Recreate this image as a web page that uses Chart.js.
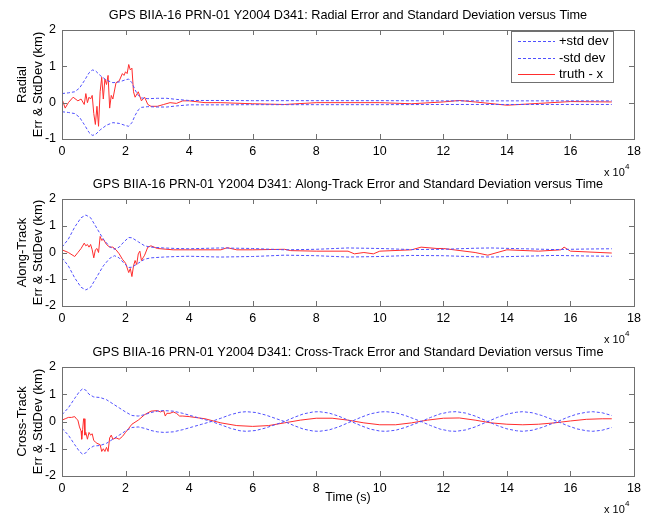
<!DOCTYPE html>
<html>
<head>
<meta charset="utf-8">
<script src="https://cdn.jsdelivr.net/npm/chart.js@4.4.0/dist/chart.umd.min.js"></script>
<style>
  body { margin: 0; background: #fff; width: 650px; height: 517px; position: relative; overflow: hidden; }
  canvas { position: absolute; left: 0; }
</style>
</head>
<body>
<canvas id="radial" width="650" height="185" style="top:0px"></canvas>
<canvas id="along" width="650" height="185" style="top:170px"></canvas>
<canvas id="cross" width="650" height="179" style="top:338px"></canvas>
<script>
// time axis is in units of 10^4 s
const xTickValues = [0, 2, 4, 6, 8, 10, 12, 14, 16, 18];
const radialTicks = [-1, 0, 1, 2];
const trackTicks = [-2, -1, 0, 1, 2];

// ---- Radial ----
const radialStdT = [0, 0.2, 0.4, 0.55, 0.7, 0.85, 0.95, 1.05, 1.2, 1.4, 1.6, 1.8, 2.0, 2.1, 2.2, 2.3, 2.4, 2.5, 2.7, 3.0, 3.3, 3.6, 4.0, 5, 6, 8, 10, 12, 14, 16, 17.3];
const radialStd = [0.25, 0.27, 0.3, 0.4, 0.6, 0.82, 0.9, 0.88, 0.75, 0.62, 0.55, 0.57, 0.63, 0.65, 0.55, 0.35, 0.2, 0.13, 0.11, 0.12, 0.12, 0.09, 0.06, 0.06, 0.055, 0.055, 0.055, 0.05, 0.05, 0.05, 0.05];
const radialErrT = [0, 0.1, 0.2, 0.35, 0.5, 0.6, 0.7, 0.75, 0.8, 0.85, 0.9, 0.95, 1.0, 1.05, 1.1, 1.15, 1.2, 1.25, 1.3, 1.35, 1.4, 1.45, 1.5, 1.55, 1.6, 1.7, 1.8, 1.9, 1.95, 2.0, 2.05, 2.1, 2.15, 2.2, 2.25, 2.3, 2.4, 2.5, 2.6, 2.7, 2.8, 3.0, 3.2, 3.4, 3.6, 3.8, 4.0, 4.5, 5, 6, 7, 8, 9, 10, 11, 12, 12.5, 13, 14, 15, 15.8, 16, 17.3];
const radialErr = [0.1, -0.15, 0.0, 0.15, 0.05, 0.1, -0.05, 0.25, 0.0, 0.15, 0.1, 0.2, -0.3, -0.6, -0.1, -0.65, 0.3, 0.7, 0.1, 0.65, 0.5, 0.75, -0.15, 0.2, 0.1, 0.55, 0.6, 0.8, 0.75, 0.85, 0.8, 1.05, 0.9, 0.95, 0.3, 0.15, 0.3, 0.05, 0.15, -0.05, -0.1, -0.1, -0.05, 0.0, -0.02, 0.05, 0.05, 0.0, 0.0, -0.03, -0.05, 0.0, 0.0, 0.0, -0.03, 0.02, 0.06, 0.02, -0.07, -0.02, 0.02, 0.03, 0.02];

// ---- Along-Track ----
const alongStdT = [0, 0.2, 0.4, 0.6, 0.75, 0.9, 1.1, 1.3, 1.5, 1.65, 1.8, 1.95, 2.1, 2.2, 2.4, 2.6, 2.8, 3.2, 3.6, 4.0, 5.0, 6.0, 7.0, 8.0, 9.0, 10.0, 11.0, 12.0, 13.0, 13.5, 14.5, 15.5, 16.5, 17.3];
const alongStd = [0.2, 0.5, 0.95, 1.3, 1.4, 1.3, 0.9, 0.5, 0.22, 0.12, 0.2, 0.4, 0.56, 0.55, 0.4, 0.25, 0.2, 0.17, 0.15, 0.14, 0.17, 0.15, 0.1, 0.12, 0.17, 0.15, 0.11, 0.12, 0.16, 0.17, 0.14, 0.11, 0.13, 0.14];
const alongErrT = [0, 0.2, 0.4, 0.5, 0.6, 0.7, 0.75, 0.8, 0.85, 0.9, 0.95, 1.0, 1.05, 1.1, 1.15, 1.2, 1.25, 1.3, 1.4, 1.5, 1.6, 1.7, 1.8, 1.9, 2.0, 2.1, 2.15, 2.2, 2.25, 2.3, 2.35, 2.4, 2.45, 2.5, 2.55, 2.6, 2.7, 2.8, 3.0, 3.5, 4, 5, 5.2, 5.5, 6, 7, 7.2, 8, 9, 9.2, 9.5, 9.8, 10, 11, 11.3, 11.8, 12, 13, 13.4, 14, 15, 15.7, 15.8, 16, 17.3];
const alongErr = [0.1, 0.0, -0.15, 0.0, 0.15, 0.35, 0.25, 0.3, 0.2, 0.3, 0.1, -0.2, 0.1, 0.15, 0.0, 0.6, 0.45, 0.5, 0.3, 0.2, 0.2, 0.1, -0.05, -0.25, -0.4, -0.75, -0.6, -0.9, -0.5, -0.3, -0.45, -0.05, 0.05, -0.3, -0.2, -0.1, 0.2, 0.25, 0.15, 0.1, 0.1, 0.1, 0.18, 0.1, 0.1, 0.12, 0.07, 0.05, 0.05, -0.05, 0.0, -0.05, 0.05, 0.1, 0.2, 0.15, 0.15, 0.0, -0.1, 0.1, 0.05, 0.1, 0.2, 0.05, -0.02];

// ---- Cross-Track ----
const crossStdT = [0, 0.2, 0.4, 0.55, 0.65, 0.75, 0.85, 1.0, 1.2, 1.4, 1.6, 1.8, 2.0, 2.2, 2.4, 2.6, 2.8, 3.0, 3.2, 3.5, 3.8, 4.1, 4.4, 4.7, 5.0, 5.3, 5.6, 5.8, 6.1, 6.4, 6.7, 7.0, 7.3, 7.6, 7.9, 8.1, 8.4, 8.7, 9.1, 9.4, 9.7, 10.0, 10.2, 10.5, 10.8, 11.3, 11.6, 11.9, 12.2, 12.4, 12.7, 13.0, 13.4, 13.7, 14.0, 14.3, 14.5, 14.8, 15.1, 15.6, 15.9, 16.2, 16.5, 16.7, 17.0, 17.3];
const crossStd = [0.25, 0.5, 0.85, 1.1, 1.2, 1.15, 1.0, 0.9, 0.88, 0.8, 0.65, 0.5, 0.35, 0.22, 0.2, 0.25, 0.33, 0.38, 0.4, 0.38, 0.3, 0.2, 0.1, 0.0, -0.12, -0.25, -0.34, -0.36, -0.33, -0.24, -0.12, 0.0, 0.15, 0.28, 0.35, 0.36, 0.31, 0.2, 0.0, -0.15, -0.28, -0.35, -0.36, -0.32, -0.22, 0.0, 0.15, 0.28, 0.35, 0.36, 0.31, 0.2, 0.0, -0.15, -0.27, -0.34, -0.36, -0.32, -0.22, 0.0, 0.15, 0.27, 0.34, 0.36, 0.32, 0.22];
const crossErrT = [0, 0.1, 0.2, 0.3, 0.4, 0.45, 0.5, 0.55, 0.6, 0.62, 0.65, 0.68, 0.7, 0.72, 0.75, 0.8, 0.85, 0.9, 0.95, 1.0, 1.05, 1.1, 1.2, 1.25, 1.3, 1.35, 1.4, 1.45, 1.5, 1.55, 1.6, 1.7, 1.8, 1.9, 2.0, 2.1, 2.2, 2.4, 2.6, 2.8, 3.0, 3.1, 3.2, 3.25, 3.3, 3.4, 3.5, 3.6, 3.7, 3.8, 4.0, 4.5, 5.0, 5.5, 6.0, 6.5, 7.0, 7.5, 8.0, 8.5, 9.0, 9.5, 10.0, 10.5, 11.0, 11.5, 12.0, 12.5, 13.0, 13.5, 14.0, 14.5, 15.0, 15.5, 16.0, 16.5, 17.0, 17.3];
const crossErr = [0.05, 0.1, 0.15, 0.15, 0.18, 0.1, 0.05, -0.2, -0.35, -0.65, -0.3, 0.1, 0.1, -0.5, -0.4, -0.65, -0.4, -0.5, -0.45, -0.7, -0.75, -0.8, -0.85, -1.1, -1.0, -1.1, -0.95, -1.1, -0.6, -0.5, -0.65, -0.6, -0.65, -0.55, -0.4, -0.25, -0.1, 0.05, 0.25, 0.38, 0.4, 0.35, 0.4, 0.2, 0.3, 0.3, 0.35, 0.3, 0.2, 0.2, 0.18, 0.1, -0.05, -0.15, -0.18, -0.15, -0.05, 0.05, 0.12, 0.12, 0.05, -0.05, -0.12, -0.12, -0.05, 0.05, 0.12, 0.13, 0.05, -0.05, -0.1, -0.12, -0.1, -0.05, 0.02, 0.08, 0.1, 0.1];

const FONT = '"Liberation Sans", Arial, Helvetica, sans-serif';
const BLUE = 'rgb(80,80,255)';
const RED = 'rgb(255,45,45)';

function pts(ts, vs, sign = 1) {
  return ts.map((t, i) => ({ x: t, y: sign * vs[i] }));
}

// MATLAB style box, inward ticks, title, labels, legend
const matlabAxes = {
  id: 'matlabAxes',
  afterDraw(chart, args, opts) {
    const { ctx, chartArea: a } = chart;
    const x = chart.scales.x, y = chart.scales.y;
    ctx.save();
    ctx.strokeStyle = '#707070';
    ctx.lineWidth = 1;
    ctx.strokeRect(Math.round(a.left) + 0.5, Math.round(a.top) + 0.5, Math.round(a.right - a.left), Math.round(a.bottom - a.top));
    ctx.beginPath();
    x.ticks.forEach(t => {
      const px = Math.round(x.getPixelForValue(t.value)) + 0.5;
      ctx.moveTo(px, a.bottom); ctx.lineTo(px, a.bottom - 5);
      ctx.moveTo(px, a.top); ctx.lineTo(px, a.top + 5);
    });
    y.ticks.forEach(t => {
      const py = Math.round(y.getPixelForValue(t.value)) + 0.5;
      ctx.moveTo(a.left, py); ctx.lineTo(a.left + 5, py);
      ctx.moveTo(a.right, py); ctx.lineTo(a.right - 5, py);
    });
    ctx.stroke();

    ctx.fillStyle = '#000';
    ctx.textAlign = 'center';
    ctx.textBaseline = 'middle';
    ctx.font = '12.7px ' + FONT;
    ctx.fillText(opts.title, (a.left + a.right) / 2, a.top - 15);

    ctx.save();
    ctx.translate(22, (a.top + a.bottom) / 2);
    ctx.rotate(-Math.PI / 2);
    ctx.font = '13px ' + FONT;
    opts.ylabel.forEach((line, i) => ctx.fillText(line, 0, i * 16));
    ctx.restore();

    // exponent label
    ctx.textAlign = 'left';
    ctx.font = '11px ' + FONT;
    ctx.fillText('x 10', a.right - 30, a.bottom + 34);
    ctx.font = '8px ' + FONT;
    ctx.fillText('4', a.right - 9, a.bottom + 28);

    if (opts.xlabel) {
      ctx.textAlign = 'center';
      ctx.font = '12.5px ' + FONT;
      ctx.fillText(opts.xlabel, (a.left + a.right) / 2, a.bottom + 22);
    }

    if (opts.legend) {
      const lx = a.right - 123, ly = a.top + 1, lw = 102, lh = 51;
      ctx.fillStyle = '#fff';
      ctx.fillRect(lx, ly, lw, lh);
      ctx.strokeStyle = '#707070';
      ctx.strokeRect(lx + 0.5, ly + 0.5, lw, lh);
      ctx.font = '13px ' + FONT;
      ctx.textAlign = 'left';
      chart.data.datasets.forEach((ds, i) => {
        const ry = Math.round(ly + 10 + i * 16.5) + 0.5;
        ctx.lineWidth = 1;
        ctx.strokeStyle = opts.legendColors[i];
        ctx.setLineDash(ds.borderDash || []);
        ctx.beginPath();
        ctx.moveTo(lx + 7, ry);
        ctx.lineTo(lx + 44, ry);
        ctx.stroke();
        ctx.setLineDash([]);
        ctx.fillStyle = '#000';
        ctx.fillText(ds.label, lx + 48, ry);
      });
    }
    ctx.restore();
  }
};

function makePanel(id, cfg) {
  const el = document.getElementById(id);
  return new Chart(el, {
    type: 'line',
    data: {
      datasets: [
        { label: '+std dev', data: pts(cfg.stdT, cfg.std, 1), borderColor: BLUE, borderDash: [3, 2] },
        { label: '-std dev', data: pts(cfg.stdT, cfg.std, -1), borderColor: BLUE, borderDash: [3, 2] },
        { label: 'truth - x', data: pts(cfg.errT, cfg.err), borderColor: RED }
      ]
    },
    options: {
      responsive: false,
      animation: false,
      events: [],
      elements: { point: { radius: 0 }, line: { borderWidth: 1, tension: 0 } },
      layout: { padding: { top: cfg.padTop, right: 16, left: 0, bottom: 0 } },
      scales: {
        x: {
          type: 'linear', min: 0, max: 18,
          afterBuildTicks: s => { s.ticks = xTickValues.map(v => ({ value: v })); },
          afterFit: s => { s.height = cfg.xHeight; },
          grid: { display: false, drawTicks: false }, border: { display: false },
          ticks: { color: '#000', font: { family: FONT, size: 12.5 }, padding: 5, maxRotation: 0, autoSkip: false }
        },
        y: {
          min: cfg.yTicks[0], max: cfg.yTicks[cfg.yTicks.length - 1],
          afterBuildTicks: s => { s.ticks = cfg.yTicks.map(v => ({ value: v })); },
          afterFit: s => { s.width = 62; },
          grid: { display: false, drawTicks: false }, border: { display: false },
          ticks: { color: '#000', font: { family: FONT, size: 12.5 }, padding: 6 }
        }
      },
      plugins: {
        legend: { display: false },
        tooltip: { enabled: false },
        matlabAxes: { title: cfg.title, ylabel: cfg.ylabel, xlabel: cfg.xlabel, legend: cfg.legend, legendColors: [BLUE, BLUE, RED] }
      }
    },
    plugins: [matlabAxes]
  });
}

makePanel('radial', {
  stdT: radialStdT, std: radialStd, errT: radialErrT, err: radialErr, yTicks: radialTicks,
  padTop: 30, xHeight: 185 - 139,
  title: 'GPS BIIA-16 PRN-01 Y2004 D341: Radial Error and Standard Deviation versus Time',
  ylabel: ['Radial', 'Err & StdDev (km)'], legend: true
});
makePanel('along', {
  stdT: alongStdT, std: alongStd, errT: alongErrT, err: alongErr, yTicks: trackTicks,
  padTop: 29, xHeight: 185 - 136,
  title: 'GPS BIIA-16 PRN-01 Y2004 D341: Along-Track Error and Standard Deviation versus Time',
  ylabel: ['Along-Track', 'Err & StdDev (km)']
});
makePanel('cross', {
  stdT: crossStdT, std: crossStd, errT: crossErrT, err: crossErr, yTicks: trackTicks,
  padTop: 29, xHeight: 179 - 138,
  title: 'GPS BIIA-16 PRN-01 Y2004 D341: Cross-Track Error and Standard Deviation versus Time',
  ylabel: ['Cross-Track', 'Err & StdDev (km)'], xlabel: 'Time (s)'
});
</script>
</body>
</html>
